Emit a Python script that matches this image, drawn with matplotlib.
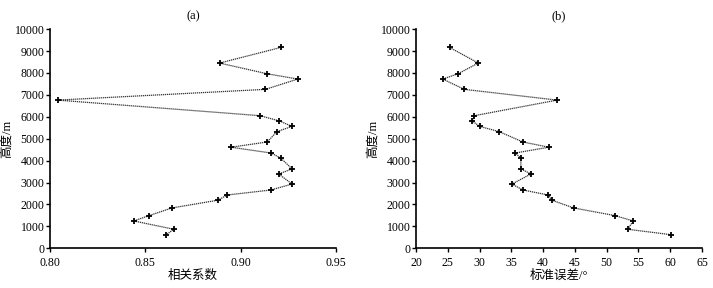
import matplotlib
matplotlib.use("Agg")
import matplotlib.pyplot as plt

plt.rcParams["font.family"] = ["Liberation Serif", "Noto Sans CJK SC"]

# heights (m), shared by both panels
heights = [9160, 8450, 7960, 7720, 7250, 6760, 6050, 5820, 5560, 5320, 4850, 4610,
           4345, 4120, 3620, 3390, 2930, 2660, 2430, 2190, 1840, 1490, 1245, 866, 620]
corr = [0.921, 0.889, 0.914, 0.930, 0.913, 0.804, 0.910, 0.920, 0.927, 0.919, 0.914, 0.895,
        0.916, 0.921, 0.927, 0.920, 0.927, 0.916, 0.893, 0.888, 0.864, 0.852, 0.844, 0.865, 0.861]
std_err = [25.3, 29.8, 26.6, 24.2, 27.6, 42.2, 29.2, 28.8, 30.0, 33.1, 36.8, 40.9,
           35.6, 36.5, 36.5, 38.1, 35.1, 36.8, 40.8, 41.4, 44.8, 51.3, 54.2, 53.3, 60.1]

fig = plt.figure(figsize=(7.13, 2.88), dpi=100)
fig.patch.set_facecolor("white")

panels = [
    (corr, [0.80, 0.85, 0.90, 0.95], ["0.80", "0.85", "0.90", "0.95"], (0.80, 0.95), "相关系数", "(a)", 0.0701),
    (std_err, list(range(20, 66, 5)), [str(v) for v in range(20, 66, 5)], (20, 65), "标准误差/°", "(b)", 0.5835),
]

for xs, xticks, xlabels, xlim, xlabel, title, left in panels:
    ax = fig.add_axes([left, 0.138, 0.401, 0.761])
    ax.plot(xs, heights, color="#333333", linestyle=(0, (1, 0.6)), linewidth=0.9,
            marker="+", markersize=5, markeredgewidth=1.3, markeredgecolor="black")
    ax.set_xlim(*xlim)
    ax.set_ylim(0, 10000)
    ax.set_xticks(xticks)
    ax.set_xticklabels(xlabels)
    ax.set_yticks(range(0, 10001, 1000))
    ax.spines["top"].set_visible(False)
    ax.spines["right"].set_visible(False)
    ax.spines["left"].set_linewidth(1.2)
    ax.spines["bottom"].set_linewidth(1.2)
    ax.tick_params(direction="out", length=3, width=1, labelsize=8.5)
    ax.tick_params(axis="y", pad=1)
    ax.tick_params(axis="x", pad=3)
    ax.set_xlabel(xlabel, fontsize=9, labelpad=1)
    ax.set_ylabel("高度/m", fontsize=9, labelpad=1)
    ax.set_title(title, fontsize=9, pad=7)

fig.savefig("out.png", dpi=100, facecolor="white")
